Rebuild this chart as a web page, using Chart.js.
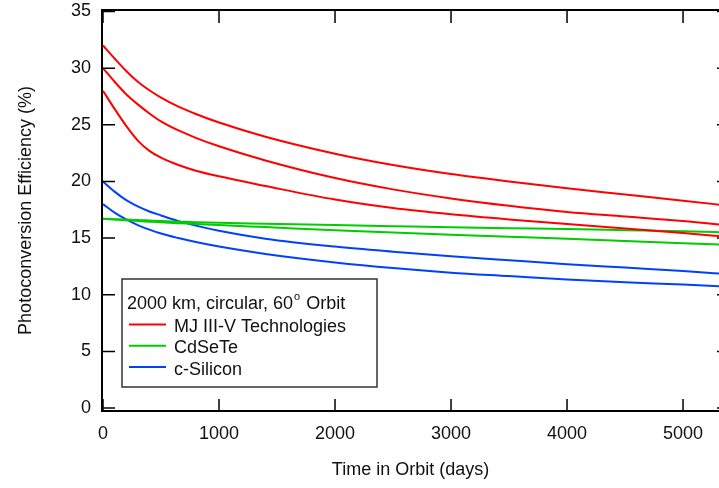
<!DOCTYPE html>
<html>
<head>
<meta charset="utf-8">
<script src="https://cdn.jsdelivr.net/npm/chart.js@4.4.1/dist/chart.umd.min.js"></script>
<style>
  html, body { margin: 0; padding: 0; background: #fff; }
  #orbit_chart { display: block; }
</style>
</head>
<body>
<canvas id="orbit_chart" width="719" height="488"></canvas>
<script>
var days = [0, 100, 200, 300, 400, 500, 650, 800, 1000, 1400, 2000, 2500, 3000, 3500, 4000, 4500, 5000, 5400];

var mjHigh = [32.0, 30.85, 29.75, 28.8, 28.05, 27.4, 26.6, 25.95, 25.2, 23.95, 22.45, 21.45, 20.65, 20.0, 19.4, 18.85, 18.3, 17.85];
var mjMid = [30.0, 28.8, 27.7, 26.8, 26.0, 25.3, 24.5, 23.85, 23.1, 21.85, 20.3, 19.3, 18.5, 17.85, 17.3, 16.9, 16.5, 16.1];
var mjLow = [28.0, 26.4, 24.9, 23.6, 22.7, 22.1, 21.45, 20.95, 20.45, 19.6, 18.4, 17.65, 17.1, 16.65, 16.25, 15.85, 15.45, 15.1];
var cdseteHigh = [16.7, 16.66, 16.63, 16.6, 16.55, 16.5, 16.45, 16.4, 16.35, 16.27, 16.15, 16.05, 15.95, 15.87, 15.8, 15.7, 15.6, 15.5];
var cdseteLow = [16.7, 16.64, 16.57, 16.5, 16.45, 16.4, 16.32, 16.25, 16.15, 15.97, 15.7, 15.5, 15.3, 15.12, 14.95, 14.75, 14.55, 14.4];
var siliconHigh = [20.0, 19.1, 18.35, 17.8, 17.35, 17.0, 16.5, 16.1, 15.65, 14.95, 14.25, 13.8, 13.4, 13.05, 12.7, 12.4, 12.1, 11.8];
var siliconLow = [18.0, 17.25, 16.65, 16.15, 15.75, 15.4, 15.0, 14.65, 14.25, 13.6, 12.85, 12.35, 11.95, 11.65, 11.35, 11.1, 10.9, 10.7];

var xTicks = [0, 1000, 2000, 3000, 4000, 5000];
var yTicks = [0, 5, 10, 15, 20, 25, 30, 35];

var legendTitle = "2000 km, circular, 60";
var legendLabels = ["MJ III-V Technologies", "CdSeTe", "c-Silicon"];
var legendColors = ['rgb(255, 0, 0)', 'rgb(0, 204, 0)', 'rgb(0, 64, 255)'];

var fontFamily = "'Liberation Sans', Arial, sans-serif";

function toPoints(values) {
    var points = [];
    for (var i = 0; i < values.length; i++) {
        points.push({x: days[i], y: values[i]});
    }
    return points;
}

function makeDataset(label, values, color) {
    return {
        label: label,
        data: toPoints(values),
        borderColor: color,
        borderWidth: 2,
        pointRadius: 0,
        fill: false,
        cubicInterpolationMode: 'monotone'
    };
}

// top frame and inward ticks; the right axis sits just past the canvas edge
var framePlugin = {
    id: 'frame',
    afterDatasetsDraw: function (chart) {
        var ctx = chart.ctx;
        var area = chart.chartArea;
        var xs = chart.scales.x;
        var ys = chart.scales.y;
        ctx.save();
        ctx.strokeStyle = '#000';
        ctx.lineWidth = 2;
        ctx.beginPath();
        ctx.moveTo(area.left, area.top);
        ctx.lineTo(area.right, area.top);
        ctx.stroke();

        ctx.lineWidth = 1.5;
        ctx.beginPath();
        for (var i = 0; i < xTicks.length; i++) {
            var px = xs.getPixelForValue(xTicks[i]);
            ctx.moveTo(px, area.bottom);
            ctx.lineTo(px, area.bottom - 12);
            ctx.moveTo(px, area.top);
            ctx.lineTo(px, area.top + 13);
        }
        for (var j = 0; j < yTicks.length; j++) {
            var py = ys.getPixelForValue(yTicks[j]);
            ctx.moveTo(area.left, py);
            ctx.lineTo(area.left + 13, py);
            ctx.moveTo(area.right, py);
            ctx.lineTo(area.right - 2, py);
        }
        ctx.stroke();
        ctx.restore();
    }
};

var legendBoxPlugin = {
    id: 'legendBox',
    afterDraw: function (chart) {
        var ctx = chart.ctx;
        var area = chart.chartArea;
        var bx = area.left + 20;
        var by = area.bottom - 132;
        var bw = 255;
        var bh = 108;
        ctx.save();
        ctx.fillStyle = '#fff';
        ctx.fillRect(bx, by, bw, bh);
        ctx.strokeStyle = '#333';
        ctx.lineWidth = 1.5;
        ctx.strokeRect(bx, by, bw, bh);

        ctx.fillStyle = '#111';
        ctx.textBaseline = 'alphabetic';
        ctx.textAlign = 'left';
        ctx.font = '18px ' + fontFamily;
        var tx = bx + 5;
        var ty = by + 30;
        ctx.fillText(legendTitle, tx, ty);
        tx += ctx.measureText(legendTitle).width + 1;
        ctx.font = '11px ' + fontFamily;
        ctx.fillText('o', tx, ty - 9);
        tx += ctx.measureText('o').width + 1;
        ctx.font = '18px ' + fontFamily;
        ctx.fillText(' Orbit', tx, ty);

        for (var i = 0; i < legendLabels.length; i++) {
            var base = by + 53 + i * 21.3;
            ctx.strokeStyle = legendColors[i];
            ctx.lineWidth = 2;
            ctx.beginPath();
            ctx.moveTo(bx + 7, base - 7.5);
            ctx.lineTo(bx + 44, base - 7.5);
            ctx.stroke();
            ctx.fillText(legendLabels[i], bx + 52, base);
        }
        ctx.restore();
    }
};

function createChart() {
    var ctx = document.getElementById("orbit_chart").getContext('2d');
    var chart = new Chart(ctx, {
        type: 'line',
        data: {
            datasets: [
                makeDataset("MJ III-V Technologies", mjHigh, legendColors[0]),
                makeDataset("MJ III-V Technologies", mjMid, legendColors[0]),
                makeDataset("MJ III-V Technologies", mjLow, legendColors[0]),
                makeDataset("CdSeTe", cdseteHigh, legendColors[1]),
                makeDataset("CdSeTe", cdseteLow, legendColors[1]),
                makeDataset("c-Silicon", siliconHigh, legendColors[2]),
                makeDataset("c-Silicon", siliconLow, legendColors[2])
            ]
        },
        options: {
            responsive: false,
            animation: false,
            events: [],
            layout: {padding: {left: 0, right: 0, top: 10, bottom: 0}},
            plugins: {legend: {display: false}, tooltip: {enabled: false}},
            scales: {
                x: {
                    type: 'linear',
                    min: -8.6,
                    max: 5310,
                    afterBuildTicks: function (scale) {
                        scale.ticks = xTicks.map(function (v) { return {value: v}; });
                    },
                    afterFit: function (scale) {
                        scale.height = 77;
                        scale.paddingLeft = 0;
                        scale.paddingRight = 0;
                    },
                    grid: {display: false},
                    border: {display: true, color: '#000', width: 2},
                    ticks: {
                        color: '#111',
                        padding: 4,
                        maxRotation: 0,
                        autoSkip: false,
                        font: {family: fontFamily, size: 18},
                        callback: function (v) { return String(v); }
                    },
                    title: {
                        display: true,
                        text: 'Time in Orbit (days)',
                        color: '#111',
                        font: {family: fontFamily, size: 18},
                        padding: {top: 0, bottom: 7}
                    }
                },
                y: {
                    min: -0.26,
                    max: 35.13,
                    afterBuildTicks: function (scale) {
                        scale.ticks = yTicks.map(function (v) { return {value: v}; });
                    },
                    afterFit: function (scale) {
                        scale.width = 102;
                        scale.paddingTop = 0;
                        scale.paddingBottom = 0;
                    },
                    grid: {display: false},
                    border: {display: true, color: '#000', width: 2},
                    ticks: {
                        color: '#111',
                        padding: 3,
                        autoSkip: false,
                        font: {family: fontFamily, size: 18},
                        callback: function (v) { return String(v); }
                    },
                    title: {
                        display: true,
                        text: 'Photoconversion Efficiency (%)',
                        color: '#111',
                        font: {family: fontFamily, size: 18},
                        padding: {top: 15, bottom: 0}
                    }
                }
            }
        },
        plugins: [framePlugin, legendBoxPlugin]
    });
    return chart;
}

createChart();
</script>
</body>
</html>
